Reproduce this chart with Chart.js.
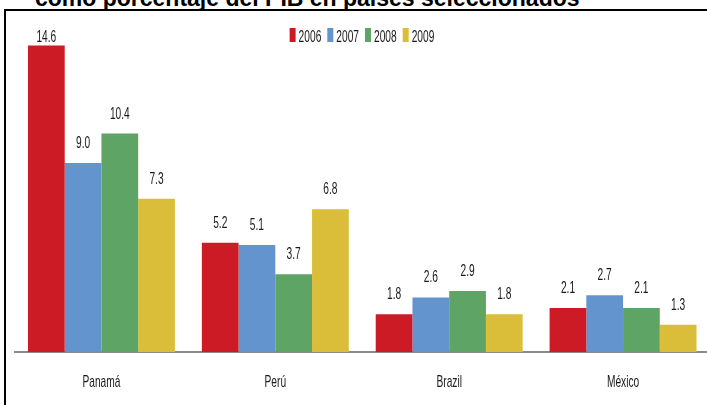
<!DOCTYPE html>
<html>
<head>
<meta charset="utf-8">
<script src="https://cdn.jsdelivr.net/npm/chart.js@4"></script>
<style>
  html, body { margin: 0; padding: 0; background: #fff; overflow: hidden; width: 707px; height: 405px; }
  #title { position: absolute; left: 35px; top: -15px; font: bold 23px "Liberation Sans", Arial, sans-serif; color: #000; white-space: nowrap; }
  #frame { position: absolute; left: 4px; top: 9px; width: 800px; height: 500px; border-left: 2px solid #000; border-top: 2px solid #000; }
  #wrap { position: absolute; left: 0; top: 0; width: 712px; height: 405px; }
</style>
</head>
<body>
<div id="title">como porcentaje del PIB en países seleccionados</div>
<div id="frame"></div>
<div id="wrap"><canvas id="c" width="712" height="405"></canvas></div>
<script>
const categories = ["Panamá", "Perú", "Brazil", "México"];
const years = ["2006", "2007", "2008", "2009"];
const v2006 = [14.6, 5.2, 1.8, 2.1];
const v2007 = [9.0, 5.1, 2.6, 2.7];
const v2008 = [10.4, 3.7, 2.9, 2.1];
const v2009 = [7.3, 6.8, 1.8, 1.3];
const colors = ["#CC1B24", "#6394CD", "#5EA464", "#DABE39"];

const TEXT_FONT = '"Liberation Sans", Arial, sans-serif';
const TEXT_COLOR = '#1a1a1a';
const SQUEEZE = 0.6;
const TEXT_SIZE = 17;

function narrowText(ctx, text, x, y, align) {
  ctx.save();
  ctx.font = TEXT_SIZE + 'px ' + TEXT_FONT;
  ctx.fillStyle = TEXT_COLOR;
  ctx.textBaseline = 'alphabetic';
  ctx.textAlign = align || 'center';
  ctx.translate(x, y);
  ctx.scale(SQUEEZE, 1);
  ctx.fillText(text, 0, 0);
  const w = ctx.measureText(text).width * SQUEEZE;
  ctx.restore();
  return w;
}

const textPlugin = {
  id: 'narrowTexts',
  afterDatasetsDraw(chart) {
    const ctx = chart.ctx;
    // value labels above bars
    chart.data.datasets.forEach((ds, i) => {
      const meta = chart.getDatasetMeta(i);
      meta.data.forEach((bar, j) => {
        let y = bar.y - 15;
        if (y < 42) y = 42;
        narrowText(ctx, ds.data[j].toFixed(1), bar.x, y, 'center');
      });
    });
    // category labels under the axis
    const xs = chart.scales.x;
    chart.data.labels.forEach((lab, k) => {
      narrowText(ctx, lab, xs.getPixelForTick(k), chart.chartArea.bottom + 35, 'center');
    });
    // legend
    const items = chart.data.datasets.map(d => ({ text: d.label, color: d.backgroundColor }));
    ctx.save();
    ctx.font = TEXT_SIZE + 'px ' + TEXT_FONT;
    const widths = items.map(it => ctx.measureText(it.text).width * SQUEEZE);
    ctx.restore();
    const boxW = 6, gap = 3, itemGap = 6;
    const total = widths.reduce((a, w) => a + boxW + gap + w, 0) + itemGap * (items.length - 1);
    let x = 362 - total / 2;
    items.forEach((it, k) => {
      ctx.fillStyle = it.color;
      ctx.fillRect(x, 28, boxW, 14);
      narrowText(ctx, it.text, x + boxW + gap, 41.5, 'left');
      x += boxW + gap + widths[k] + itemGap;
    });
  }
};

new Chart(document.getElementById('c'), {
  type: 'bar',
  data: {
    labels: categories,
    datasets: years.map((y, i) => ({
      label: y,
      data: [v2006, v2007, v2008, v2009][i],
      backgroundColor: colors[i],
      clip: false
    }))
  },
  options: {
    responsive: false,
    animation: false,
    devicePixelRatio: 1,
    layout: { padding: { left: 14.5, right: 2, top: 37, bottom: 53 } },
    datasets: { bar: { categoryPercentage: 0.845, barPercentage: 1.0 } },
    plugins: {
      legend: { display: false },
      tooltip: { enabled: false },
      title: { display: false }
    },
    scales: {
      x: {
        grid: { display: false, drawTicks: false },
        border: { display: true, color: '#8a8a8a', width: 2 },
        ticks: { display: false }
      },
      y: {
        display: false,
        min: 0,
        max: 15
      }
    }
  },
  plugins: [textPlugin]
});
</script>
</body>
</html>
